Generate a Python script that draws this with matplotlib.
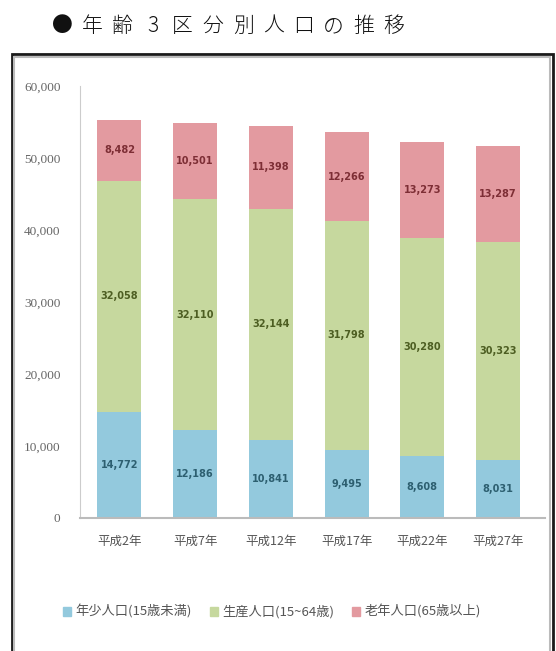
import matplotlib
matplotlib.use("Agg")
import matplotlib.pyplot as plt
from matplotlib.patches import Rectangle

plt.rcParams['font.family'] = ['Noto Sans CJK JP', 'DejaVu Sans']

title = "●年齢3区分別人口の推移"
years = ["平成2年", "平成7年", "平成12年", "平成17年", "平成22年", "平成27年"]
young = [14772, 12186, 10841, 9495, 8608, 8031]
working = [32058, 32110, 32144, 31798, 30280, 30323]
elderly = [8482, 10501, 11398, 12266, 13273, 13287]
series_names = ["年少人口(15歳未満)", "生産人口(15~64歳)", "老年人口(65歳以上)"]
yticks = [0, 10000, 20000, 30000, 40000, 50000, 60000]

colors = ["#93c9dd", "#c6d89e", "#e39aa0"]
text_colors = ["#2d5f70", "#4d5e22", "#7d2e35"]

W, H = 556, 651
fig = plt.figure(figsize=(W / 100, H / 100), dpi=100)

# Title, characters spread out
x0, step = 52, 30.2
for i, ch in enumerate(title):
    fig.text((x0 + i * step + 10) / W, 1 - 26 / H, ch, ha='center', va='center',
             fontsize=15, fontweight='light', color='#111111')

# Frame
fig.patches.append(Rectangle((12 / W, -0.05), (553 - 12) / W, (54 / H) * -1 + 1.05,
                             transform=fig.transFigure, fill=False,
                             edgecolor='#1a1a1a', linewidth=2))
fig.patches.append(Rectangle((14 / W, -0.05), (550 - 14) / W, (57 / H) * -1 + 1.05,
                             transform=fig.transFigure, fill=False,
                             edgecolor='#bbbbbb', linewidth=1.5))

# Axes: x from 80 to 545, y: 0 at 518, 60000 at 86
ax_l, ax_r = 80, 545
ax_b, ax_t = 518, 86
ax = fig.add_axes([ax_l / W, 1 - ax_b / H, (ax_r - ax_l) / W, (ax_b - ax_t) / H])

x = list(range(len(years)))
bw = 0.58
bottoms = [0] * len(years)
for vals, c, tc in zip([young, working, elderly], colors, text_colors):
    ax.bar(x, vals, bw, bottom=bottoms, color=c, edgecolor='none', zorder=2)
    for xi, v, b in zip(x, vals, bottoms):
        ax.text(xi, b + v / 2, f"{v:,}", ha='center', va='center', fontsize=7,
                color=tc, fontweight='bold', family=['DejaVu Sans'])
    bottoms = [b + v for b, v in zip(bottoms, vals)]

ax.set_xlim(-0.52, len(years) - 0.38)
ax.set_ylim(0, 60000)
ax.set_yticks(yticks)
ax.set_yticklabels([f"{t:,}" for t in yticks], fontsize=9.5, color='#666666',
                   family=['Liberation Serif'])
ax.set_xticks(x)
ax.set_xticklabels(years, fontsize=9, color='#555555')
ax.tick_params(axis='both', length=0)
ax.tick_params(axis='y', pad=14)
ax.tick_params(axis='x', pad=12)
for s in ['top', 'right']:
    ax.spines[s].set_visible(False)
ax.spines['left'].set_color('#cccccc')
ax.spines['bottom'].set_color('#bbbbbb')
ax.spines['bottom'].set_linewidth(1.5)

# Legend
handles = [Rectangle((0, 0), 1, 1, color=c) for c in colors]
fig.legend(handles, series_names, loc='center', bbox_to_anchor=(272 / W, 1 - 612 / H),
           ncol=3, frameon=False, fontsize=9.5, handlelength=0.6, handleheight=0.6,
           handletextpad=0.3, columnspacing=1.4, labelcolor='#555555')

fig.savefig("out.png", dpi=100, facecolor='white')
